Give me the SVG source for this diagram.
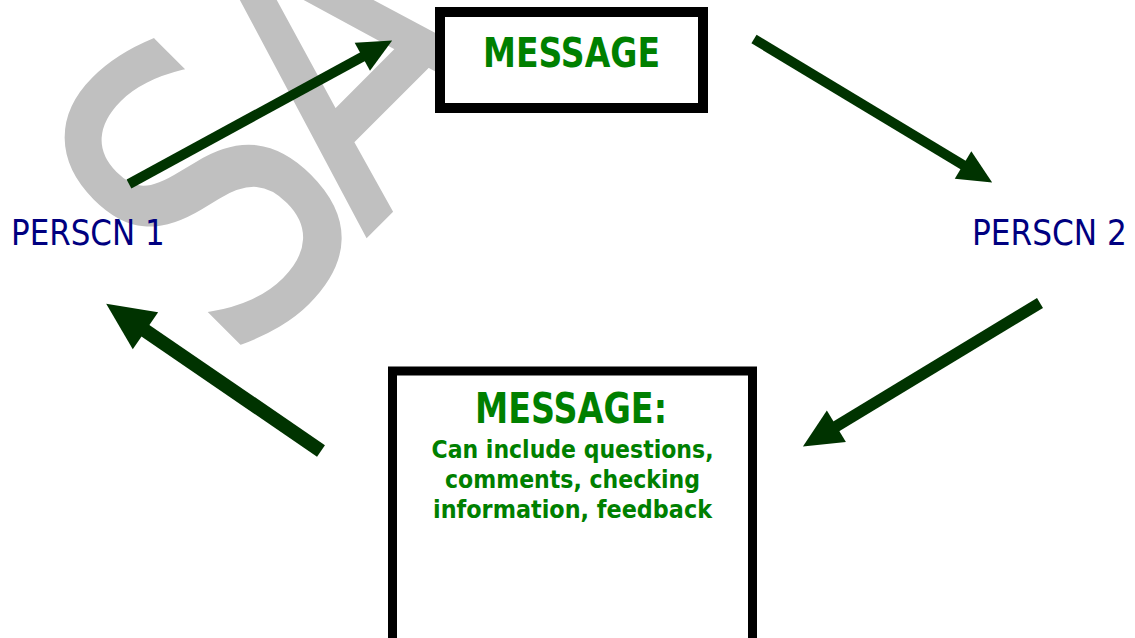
<svg xmlns="http://www.w3.org/2000/svg" width="1135" height="638" viewBox="0 0 1135 638">
  <style>
    .wm { font-family: "DejaVu Sans", sans-serif; font-size: 409px; fill: #c0c0c0; stroke: #c0c0c0; stroke-width: 4px; }
    .box { fill: #ffffff; stroke: #000000; }
    .title { font-family: "DejaVu Sans", "Liberation Sans", sans-serif; font-weight: bold; fill: #008000; }
    .body { font-family: "DejaVu Sans", "Liberation Sans", sans-serif; font-weight: bold; font-size: 25px; fill: #008000; }
    .person { font-family: "DejaVu Sans", "Liberation Sans", sans-serif; font-size: 36px; fill: #000080; }
    .arrow { stroke: #003300; fill: none; marker-end: url(#ah); }
  </style>
  <defs>
    <marker id="ah" markerUnits="strokeWidth" markerWidth="3.6" markerHeight="3.2" refX="0.1" refY="1.6" orient="auto" overflow="visible">
      <path d="M0,0 L3.4,1.6 L0,3.2 z" fill="#003300"/>
    </marker>
  </defs>
  <rect width="1135" height="638" fill="#ffffff"/>

  <text class="wm" transform="translate(234,368) rotate(-45) scale(0.8,1)">S<tspan dx="-28">A</tspan></text>

  <g id="message-top">
    <rect class="box" x="440" y="12" width="263" height="96" stroke-width="10"/>
    <text class="title" x="571.5" y="67" font-size="41" text-anchor="middle" textLength="177" lengthAdjust="spacingAndGlyphs">MESSAGE</text>
  </g>

  <g id="person1">
    <text class="person" transform="translate(11,245) scale(0.86,1)">PERSCN 1</text>
  </g>

  <g id="person2">
    <text class="person" transform="translate(972,245) scale(0.867,1)">PERSCN 2</text>
  </g>

  <g id="message-bottom">
    <rect class="box" x="392.5" y="371" width="360" height="285" stroke-width="9"/>
    <text class="title" x="571" y="423" font-size="43" text-anchor="middle" textLength="192" lengthAdjust="spacingAndGlyphs">MESSAGE:</text>
    <text class="body" x="572.5" y="458" text-anchor="middle" textLength="282" lengthAdjust="spacingAndGlyphs">Can include questions,</text>
    <text class="body" x="572.5" y="488" text-anchor="middle" textLength="255" lengthAdjust="spacingAndGlyphs">comments, checking</text>
    <text class="body" x="572.5" y="518" text-anchor="middle" textLength="279" lengthAdjust="spacingAndGlyphs">information, feedback</text>
  </g>

  <g id="connectors">
    <line class="arrow" x1="129" y1="184" x2="363.2" y2="56.3" stroke-width="10"/>
    <line class="arrow" x1="754" y1="39" x2="963.9" y2="165.5" stroke-width="10"/>
    <line class="arrow" x1="1040" y1="303" x2="835.4" y2="426.8" stroke-width="11.5"/>
    <line class="arrow" x1="321" y1="451" x2="144.3" y2="329.9" stroke-width="14"/>
  </g>
</svg>
